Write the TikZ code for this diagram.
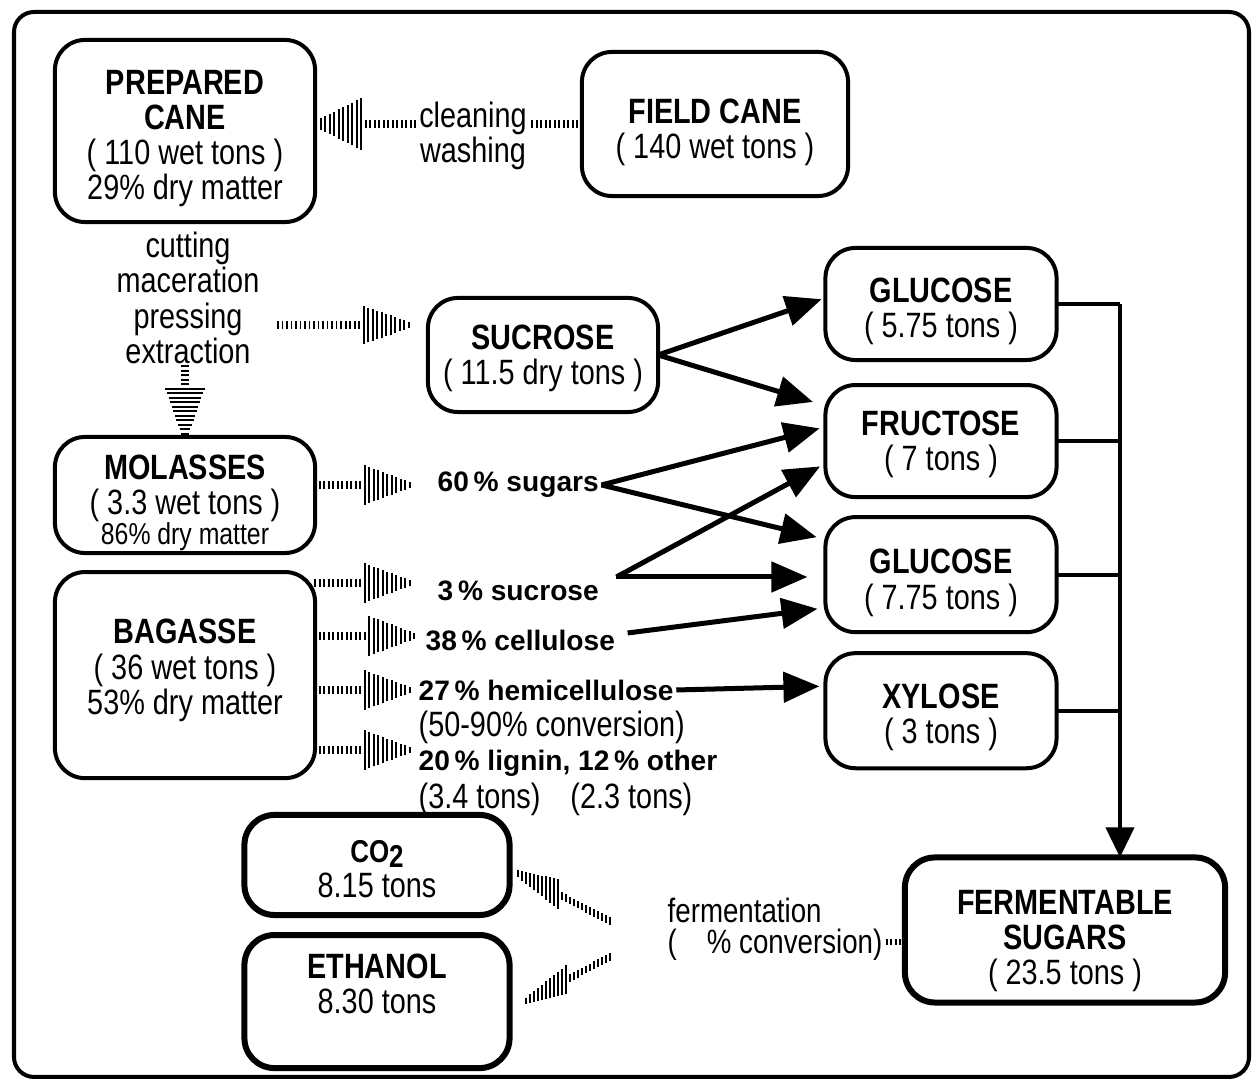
\documentclass[tikz,border=0pt]{standalone}
\usepackage{fontspec}
\setmainfont{Liberation Sans}[FakeStretch=0.82]
\newfontfamily\lblfont{Liberation Sans}
\usepackage{tikz}
\usetikzlibrary{arrows.meta,positioning,calc,decorations.markings}
\newif\iftickup
\newcommand\tickbar[1]{%
  \pgfmathsetmacro\tickrest{\pgfdecoratedpathlength-\pgfkeysvalueof{/pgf/decoration/mark info/distance from start}}%
  \pgfmathsetmacro\tickh{\tickrest<14 ? 0.8+(#1-0.8)*\tickrest/14 : 1.1}%
  \iftickup\pgftransformresetnontranslations\fi
  \draw[line width=0.55pt] (0pt,-\tickh pt) -- (0pt,\tickh pt);}
\newcommand\topgap[1]{\rule{0pt}{#1}}
\newcommand\botgap[1]{\rule[-#1]{0pt}{0pt}}

\begin{document}
\begin{tikzpicture}[x=0.01cm,y=-0.01cm,
      box/.style={draw,line width=0.04cm,rounded corners=0.3cm,align=center,
                  inner sep=0pt,outer sep=0pt,font=\fontsize{10}{10}\selectfont},
      heavy/.style={box,line width=0.06cm},
      note/.style={inner sep=0.02cm,align=left,font=\fontsize{10}{10}\selectfont},
      lbl/.style={inner sep=0.02cm,font=\lblfont\fontsize{8}{9}\selectfont\bfseries},
      flow/.style={line width=0.05cm,-{Triangle[length=0.36cm,width=0.3cm]}},
      busline/.style={line width=0.04cm},
      tickarrow/.style={decoration={markings,
          mark=between positions 0 and 1 step 0.045cm with {\tickbar{#1}}},decorate},
      tickarrow/.default=6,
      tickup/.code={\tickuptrue}]
    \useasboundingbox (0,0) rectangle (1253,1080);
    \draw[line width=0.04cm,rounded corners=0.2cm] (14,12) rectangle (1249,1077);

    \node[box,minimum width=2.6cm,minimum height=1.82cm](PC) at (185,131)
      {\topgap{0.39cm}\textbf{PREPARED}\\\textbf{CANE}\\( 110 wet tons )\\29\% dry matter};
    \node[box,minimum width=2.66cm,minimum height=1.44cm](FC) at (715,124)
      {\topgap{0.41cm}\textbf{FIELD CANE}\\( 140 wet tons )};
    \node[box,minimum width=2.3cm,minimum height=1.14cm](SUC) at (543,355)
      {\topgap{0.32cm}\textbf{SUCROSE}\\( 11.5 dry tons )};
    \node[box,minimum width=2.31cm,minimum height=1.12cm](GL1) at (941,304)
      {\topgap{0.4cm}\textbf{GLUCOSE}\\( 5.75 tons )};
    \node[box,minimum width=2.31cm,minimum height=1.12cm,below=0.25cm of GL1](FR)
      {\topgap{0.31cm}\textbf{FRUCTOSE}\\( 7 tons )};
    \node[box,minimum width=2.31cm,minimum height=1.15cm,below=0.2cm of FR](GL2)
      {\topgap{0.41cm}\textbf{GLUCOSE}\\( 7.75 tons )};
    \node[box,minimum width=2.31cm,minimum height=1.15cm,below=0.21cm of GL2](XY)
      {\topgap{0.38cm}\textbf{XYLOSE}\\( 3 tons )};
    \node[box,minimum width=2.6cm,minimum height=1.16cm](MOL) at (185,495)
      {\topgap{0.4cm}\textbf{MOLASSES}\\( 3.3 wet tons )\\[-0.05cm]{\fontsize{8.6}{10}\selectfont 86\% dry matter}};
    \node[box,minimum width=2.6cm,minimum height=2.06cm,below=0.19cm of MOL](BAG)
      {\textbf{BAGASSE}\\( 36 wet tons )\\53\% dry matter\botgap{0.165cm}};
    \node[heavy,minimum width=2.65cm,minimum height=1cm](CO) at (377,865)
      {\topgap{0.31cm}\textbf{\fontsize{9}{9}\selectfont CO\raisebox{-0.3ex}{2}}\\8.15 tons};
    \node[heavy,minimum width=2.65cm,minimum height=1.33cm,below=0.2cm of CO](ETH)
      {\textbf{ETHANOL}\\8.30 tons\\\mbox{}};
    \node[heavy,minimum width=3.2cm,minimum height=1.45cm](FS) at (1065,930)
      {\topgap{0.46cm}\textbf{FERMENTABLE}\\\textbf{SUGARS}\\( 23.5 tons )};

    \node[note,align=center](ST) at (188,298) {cutting\\maceration\\pressing\\extraction};
    \node[lbl,anchor=west](L60) at (435,485) {60\,\% sugars};
    \node[lbl,anchor=west](L3) at (435,591) {3\,\% sucrose};
    \node[lbl,anchor=west](L38) at (423,640) {38\,\% cellulose};
    \node[lbl,anchor=west](L27) at (416,690) {27\,\% hemicellulose};
    \node[note,anchor=west](L27c) at (416,727) {(50-90\% conversion)};
    \node[lbl,anchor=west](L20) at (416,763) {20\,\% lignin, 12\,\% other};
    \node[note,anchor=west](L20t) at (416,799) {(3.4 tons)\hspace{0.3cm}(2.3 tons)};
    \node[note,anchor=west,font=\fontsize{9.6}{8.8}\selectfont](FE) at (665,929)
      {fermentation\\(\hspace{0.3cm}\% conversion)};

    \path[tickarrow=7.8] (FC.west) -- (FC.west -| PC.east);
    \node[note,align=center,fill=white](CW) at (473,136) {cleaning\\washing};
    \coordinate (PR) at (278,325);
    \path[tickarrow=5.7] (PR) -- ([xshift=-0.18cm]PR -| SUC.west);
    \path[tickarrow=5.7] (ST.south -| MOL.north) -- (MOL.north);
    \path[tickarrow] (MOL.east |- L60.west) -- ([xshift=-0.25cm]L60.west);
    \path[tickarrow] ([yshift=0.08cm]BAG.east |- L3.west) -- ([xshift=-0.25cm,yshift=0.08cm]L3.west);
    \path[tickarrow] ([yshift=0.04cm]BAG.east |- L38.west) -- ([xshift=-0.08cm,yshift=0.04cm]L38.west);
    \path[tickarrow] (BAG.east |- L27.west) -- ([xshift=-0.06cm]L27.west);
    \path[tickarrow] ([yshift=0.13cm]BAG.east |- L20.west) -- ([xshift=-0.06cm,yshift=0.13cm]L20.west);
    \path[tickarrow=1.1] ([yshift=-0.13cm]FS.west |- FE.east) -- ([yshift=-0.13cm]FE.east);
    \path[tickarrow=4.3,tickup] ([xshift=-0.55cm,yshift=0.08cm]FE.west) -- ([xshift=0.05cm,yshift=-0.07cm]CO.east);
    \path[tickarrow=4.3,tickup] ([xshift=-0.55cm,yshift=-0.28cm]FE.west) -- ([xshift=0.15cm]ETH.east);

    \coordinate (L3o) at ([xshift=0.15cm,yshift=0.14cm]L3.east);
    \draw[flow,shorten >=0.04cm] (SUC.east) -- (GL1.177);
    \draw[flow,shorten >=0.13cm] (SUC.east) -- (FR.163);
    \draw[flow,shorten >=0.06cm] (L60.east) -- (FR.173);
    \draw[flow,shorten >=0.09cm] (L60.east) -- (GL2.163);
    \draw[flow,shorten >=0.06cm] (L3o) -- (FR.191);
    \draw[flow,shorten >=0.18cm] (L3o) -- (GL2.west |- L3o);
    \draw[flow,shorten >=0.08cm] ([xshift=0.1cm,yshift=0.07cm]L38.east) -- (GL2.196);
    \draw[flow,shorten >=0.06cm] (L27.east) -- (XY.168);

    \coordinate (J) at (1120,304);
    \draw[busline] (GL1.east) -- (GL1.east -| J);
    \draw[busline] (FR.east) -- (FR.east -| J);
    \draw[busline] (GL2.east) -- (GL2.east -| J);
    \draw[busline] (XY.east) -- (XY.east -| J);
    \draw[busline,-{Triangle[length=0.3cm,width=0.28cm]}] (GL1.east -| J) -- (J |- FS.north);
  \end{tikzpicture}
\end{document}
